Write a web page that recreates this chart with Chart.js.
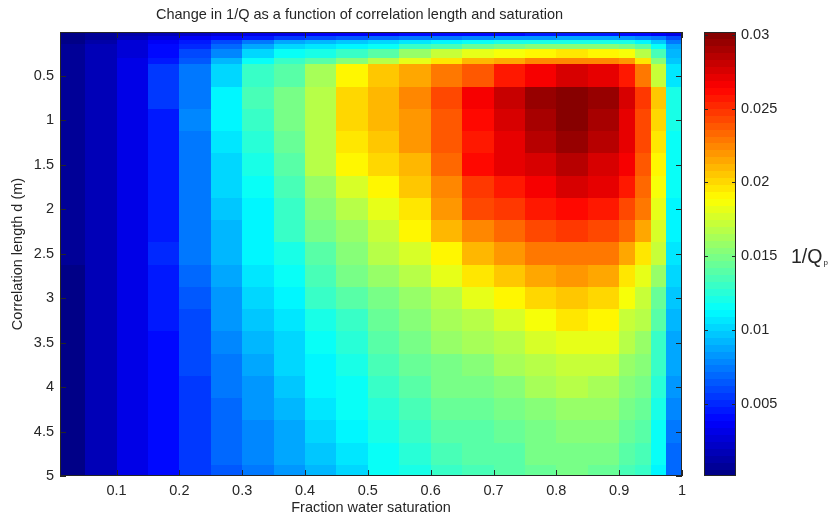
<!DOCTYPE html>
<html>
<head>
<meta charset="utf-8">
<title>Change in 1/Q</title>
<script src="https://cdn.jsdelivr.net/npm/chart.js@4.4.1/dist/chart.umd.min.js"></script>
<style>
  html, body { margin: 0; padding: 0; background: #fff; }
</style>
</head>
<body>
<canvas id="heatmap" width="833" height="518"></canvas>
<script>
const saturationEdges = [0.01, 0.05, 0.1, 0.15, 0.2, 0.25, 0.3, 0.35, 0.4, 0.45, 0.5,
  0.55, 0.6, 0.65, 0.7, 0.75, 0.8, 0.85, 0.9, 0.925, 0.95, 0.975, 1.0];
const lengthEdges = [0.01, 0.05, 0.1, 0.15, 0.2, 0.3, 0.375, 0.625, 0.875, 1.125, 1.375,
  1.625, 1.875, 2.125, 2.375, 2.625, 2.875, 3.125, 3.375, 3.625, 3.875, 4.125, 4.375,
  4.625, 4.875, 5.0];

// 1/Qp, one row per correlation length bin, one column per saturation bin
const invQ = [
  [0.0003,0.0008,0.0013,0.0018,0.0022,0.0026,0.0030,0.0033,0.0035,0.0037,0.0038,0.0040,0.0041,0.0042,0.0043,0.0044,0.0044,0.0044,0.0043,0.0041,0.0038,0.0032],
  [0.0004,0.0010,0.0018,0.0028,0.0034,0.0041,0.0048,0.0056,0.0060,0.0065,0.0068,0.0072,0.0076,0.0080,0.0083,0.0085,0.0086,0.0086,0.0084,0.0080,0.0072,0.0058],
  [0.0005,0.0013,0.0025,0.0035,0.0045,0.0058,0.0072,0.0088,0.0095,0.0098,0.0102,0.0107,0.0112,0.0117,0.0120,0.0122,0.0123,0.0122,0.0120,0.0112,0.0098,0.0075],
  [0.0006,0.0016,0.0028,0.0041,0.0052,0.0068,0.0088,0.0102,0.0107,0.0112,0.0118,0.0128,0.0137,0.0145,0.0150,0.0154,0.0156,0.0155,0.0151,0.0140,0.0118,0.0088],
  [0.0007,0.0017,0.0028,0.0042,0.0058,0.0080,0.0102,0.0115,0.0122,0.0130,0.0142,0.0158,0.0172,0.0183,0.0189,0.0193,0.0195,0.0193,0.0187,0.0168,0.0135,0.0095],
  [0.0008,0.0018,0.0030,0.0046,0.0065,0.0092,0.0115,0.0130,0.0140,0.0152,0.0166,0.0182,0.0196,0.0208,0.0217,0.0223,0.0226,0.0223,0.0218,0.0195,0.0155,0.0098],
  [0.0008,0.0018,0.0031,0.0055,0.0074,0.0103,0.0128,0.0142,0.0162,0.0190,0.0205,0.0213,0.0228,0.0240,0.0255,0.0268,0.0276,0.0271,0.0258,0.0228,0.0175,0.0108],
  [0.0008,0.0017,0.0030,0.0053,0.0076,0.0112,0.0133,0.0147,0.0166,0.0200,0.0211,0.0226,0.0245,0.0267,0.0282,0.0295,0.0302,0.0295,0.0275,0.0250,0.0205,0.0122],
  [0.0008,0.0018,0.0030,0.0048,0.0077,0.0110,0.0130,0.0147,0.0170,0.0200,0.0211,0.0222,0.0240,0.0262,0.0278,0.0292,0.0298,0.0292,0.0272,0.0245,0.0200,0.0120],
  [0.0007,0.0017,0.0030,0.0046,0.0075,0.0106,0.0124,0.0145,0.0170,0.0197,0.0207,0.0220,0.0238,0.0258,0.0272,0.0286,0.0293,0.0285,0.0270,0.0243,0.0195,0.0118],
  [0.0007,0.0017,0.0030,0.0046,0.0074,0.0103,0.0120,0.0142,0.0168,0.0190,0.0200,0.0211,0.0235,0.0260,0.0270,0.0278,0.0287,0.0278,0.0265,0.0240,0.0190,0.0116],
  [0.0007,0.0017,0.0030,0.0047,0.0073,0.0100,0.0116,0.0137,0.0160,0.0178,0.0193,0.0204,0.0226,0.0250,0.0258,0.0268,0.0277,0.0270,0.0255,0.0234,0.0185,0.0114],
  [0.0007,0.0016,0.0030,0.0047,0.0072,0.0097,0.0113,0.0132,0.0152,0.0168,0.0183,0.0195,0.0218,0.0242,0.0248,0.0255,0.0262,0.0258,0.0245,0.0228,0.0180,0.0112],
  [0.0006,0.0016,0.0030,0.0048,0.0072,0.0095,0.0112,0.0128,0.0147,0.0160,0.0174,0.0190,0.0208,0.0226,0.0236,0.0242,0.0247,0.0245,0.0232,0.0213,0.0178,0.0110],
  [0.0006,0.0016,0.0030,0.0049,0.0072,0.0094,0.0110,0.0122,0.0142,0.0155,0.0166,0.0178,0.0193,0.0211,0.0220,0.0228,0.0230,0.0228,0.0215,0.0198,0.0175,0.0106],
  [0.0005,0.0017,0.0030,0.0047,0.0068,0.0090,0.0105,0.0117,0.0136,0.0147,0.0158,0.0170,0.0181,0.0197,0.0205,0.0213,0.0218,0.0213,0.0198,0.0183,0.0160,0.0102],
  [0.0005,0.0017,0.0030,0.0045,0.0065,0.0085,0.0100,0.0113,0.0128,0.0140,0.0151,0.0160,0.0170,0.0182,0.0190,0.0199,0.0207,0.0200,0.0185,0.0175,0.0145,0.0098],
  [0.0005,0.0017,0.0030,0.0044,0.0062,0.0082,0.0096,0.0108,0.0120,0.0132,0.0145,0.0152,0.0162,0.0170,0.0178,0.0188,0.0196,0.0190,0.0175,0.0167,0.0138,0.0093],
  [0.0005,0.0017,0.0030,0.0043,0.0060,0.0079,0.0092,0.0104,0.0117,0.0124,0.0140,0.0147,0.0157,0.0162,0.0168,0.0178,0.0183,0.0180,0.0167,0.0160,0.0132,0.0090],
  [0.0005,0.0017,0.0030,0.0042,0.0058,0.0076,0.0088,0.0100,0.0113,0.0119,0.0134,0.0143,0.0151,0.0155,0.0161,0.0170,0.0174,0.0172,0.0160,0.0154,0.0128,0.0086],
  [0.0005,0.0017,0.0030,0.0042,0.0057,0.0073,0.0085,0.0096,0.0110,0.0116,0.0130,0.0138,0.0147,0.0150,0.0155,0.0162,0.0166,0.0164,0.0154,0.0148,0.0125,0.0082],
  [0.0005,0.0017,0.0030,0.0041,0.0056,0.0071,0.0082,0.0092,0.0107,0.0114,0.0124,0.0133,0.0143,0.0145,0.0150,0.0156,0.0160,0.0157,0.0149,0.0143,0.0121,0.0078],
  [0.0005,0.0017,0.0030,0.0041,0.0055,0.0069,0.0079,0.0089,0.0101,0.0112,0.0120,0.0130,0.0138,0.0142,0.0146,0.0151,0.0155,0.0152,0.0145,0.0140,0.0118,0.0074],
  [0.0005,0.0017,0.0030,0.0040,0.0054,0.0067,0.0077,0.0086,0.0097,0.0108,0.0117,0.0126,0.0134,0.0138,0.0142,0.0147,0.0151,0.0147,0.0141,0.0134,0.0115,0.0071],
  [0.0004,0.0017,0.0030,0.0040,0.0053,0.0066,0.0075,0.0084,0.0094,0.0104,0.0114,0.0122,0.0130,0.0136,0.0139,0.0143,0.0147,0.0143,0.0137,0.0128,0.0112,0.0068]
];

const saturationTicks = [0.1, 0.2, 0.3, 0.4, 0.5, 0.6, 0.7, 0.8, 0.9, 1];
const lengthTicks = [0.5, 1, 1.5, 2, 2.5, 3, 3.5, 4, 4.5, 5];
const colorbarTicks = [0.005, 0.01, 0.015, 0.02, 0.025, 0.03];
const colorMin = 0.0001;
const colorMax = 0.0302;

const FONT = "'Liberation Sans', Arial, Helvetica, sans-serif";
const TEXT = '#262626';
const LEVELS = 64;

// matlab style jet, 64 steps
function jetColor(t) {
    const c = v => Math.round(255 * Math.min(1, Math.max(0, v)));
    return 'rgb(' + c(1.5 - Math.abs(4 * t - 3)) + ',' + c(1.5 - Math.abs(4 * t - 2)) + ',' + c(1.5 - Math.abs(4 * t - 1)) + ')';
}
const palette = [];
for (let k = 0; k < LEVELS; k++) palette.push(jetColor((k + 0.5) / LEVELS));

function colorFor(v) {
    let k = Math.floor((v - colorMin) / (colorMax - colorMin) * LEVELS);
    k = Math.max(0, Math.min(LEVELS - 1, k));
    return palette[k];
}

const fixedTicks = list => scale => { scale.ticks = list.map(v => ({ value: v })); };

const heatmapPlugin = {
    id: 'heatmap',
    beforeDatasetsDraw(chart) {
        const { ctx, chartArea: a, scales: { x, y, cb } } = chart;

        ctx.save();
        ctx.beginPath();
        ctx.rect(a.left, a.top, a.right - a.left, a.bottom - a.top);
        ctx.clip();
        for (let i = 0; i < invQ.length; i++) {
            const y0 = Math.round(y.getPixelForValue(lengthEdges[i]));
            const y1 = Math.round(y.getPixelForValue(lengthEdges[i + 1]));
            for (let j = 0; j < invQ[i].length; j++) {
                const x0 = Math.round(x.getPixelForValue(saturationEdges[j]));
                const x1 = Math.round(x.getPixelForValue(saturationEdges[j + 1]));
                ctx.fillStyle = colorFor(invQ[i][j]);
                ctx.fillRect(x0, y0, x1 - x0, y1 - y0);
            }
        }
        ctx.restore();

        // axes box + inward ticks
        ctx.save();
        ctx.strokeStyle = TEXT;
        ctx.lineWidth = 1;
        ctx.strokeRect(a.left + 0.5, a.top + 0.5, a.right - a.left - 1, a.bottom - a.top - 1);
        ctx.beginPath();
        saturationTicks.forEach(v => {
            const px = Math.round(x.getPixelForValue(v)) + 0.5;
            ctx.moveTo(px, a.bottom); ctx.lineTo(px, a.bottom - 6);
            ctx.moveTo(px, a.top); ctx.lineTo(px, a.top + 6);
        });
        lengthTicks.forEach(v => {
            const py = Math.round(y.getPixelForValue(v)) + 0.5;
            ctx.moveTo(a.left, py); ctx.lineTo(a.left + 6, py);
            ctx.moveTo(a.right, py); ctx.lineTo(a.right - 6, py);
        });
        ctx.stroke();

        // colorbar
        const cbLeft = cb.left + 22, cbRight = cb.left + 54;
        for (let k = 0; k < LEVELS; k++) {
            const v0 = colorMin + k * (colorMax - colorMin) / LEVELS;
            const v1 = colorMin + (k + 1) * (colorMax - colorMin) / LEVELS;
            const p0 = cb.getPixelForValue(v0), p1 = cb.getPixelForValue(v1);
            ctx.fillStyle = palette[k];
            ctx.fillRect(cbLeft, Math.floor(p1), cbRight - cbLeft, Math.ceil(p0) - Math.floor(p1));
        }
        ctx.strokeRect(cbLeft + 0.5, cb.top + 0.5, cbRight - cbLeft - 1, cb.bottom - cb.top - 1);
        ctx.beginPath();
        colorbarTicks.forEach(v => {
            const py = Math.round(cb.getPixelForValue(v)) + 0.5;
            ctx.moveTo(cbLeft, py); ctx.lineTo(cbLeft + 4, py);
            ctx.moveTo(cbRight, py); ctx.lineTo(cbRight - 4, py);
        });
        ctx.stroke();
        ctx.restore();
    },
    afterDraw(chart) {
        const { ctx, scales: { cb } } = chart;
        ctx.save();
        ctx.fillStyle = TEXT;
        ctx.font = '14.5px ' + FONT;
        ctx.textAlign = 'center';
        ctx.textBaseline = 'middle';
        ctx.fillText('Change in 1/Q as a function of correlation length and saturation', 359.5, 15);

        // colorbar label 1/Qp
        const mid = (cb.top + cb.bottom) / 2;
        ctx.textAlign = 'left';
        ctx.textBaseline = 'alphabetic';
        ctx.font = '19.5px ' + FONT;
        const lx = cb.left + 109;
        ctx.fillText('1/Q', lx, mid + 9);
        const w = ctx.measureText('1/Q').width;
        ctx.font = '8px ' + FONT;
        ctx.fillText('p', lx + w + 1, mid + 11);
        ctx.restore();
    }
};

const tickFont = { family: FONT, size: 14.5 };

new Chart(document.getElementById('heatmap'), {
    type: 'scatter',
    data: { datasets: [] },
    options: {
        responsive: false,
        animation: false,
        devicePixelRatio: 1,
        layout: { padding: { top: 32, left: 0, right: 0, bottom: 0 } },
        plugins: { legend: { display: false }, tooltip: { enabled: false } },
        scales: {
            x: {
                type: 'linear', min: 0.01, max: 1,
                afterBuildTicks: fixedTicks(saturationTicks),
                afterFit: s => { s.height = 42; },
                grid: { display: false, drawTicks: false }, border: { display: false },
                ticks: { color: TEXT, font: tickFont, padding: 6, maxRotation: 0, autoSkip: false, callback: v => String(v) },
                title: { display: true, text: 'Fraction water saturation', color: TEXT, font: tickFont, padding: { top: 0, bottom: 1.5 } }
            },
            y: {
                type: 'linear', min: 0.01, max: 5, reverse: true, position: 'left',
                afterBuildTicks: fixedTicks(lengthTicks),
                afterFit: s => { s.width = 60; },
                grid: { display: false, drawTicks: false }, border: { display: false },
                ticks: { color: TEXT, font: tickFont, padding: 6, autoSkip: false, callback: v => String(v) },
                title: { display: true, text: 'Correlation length d (m)', color: TEXT, font: tickFont, padding: { top: 9, bottom: 0 } }
            },
            cb: {
                type: 'linear', axis: 'y', position: 'right', min: colorMin, max: colorMax,
                afterBuildTicks: fixedTicks(colorbarTicks),
                afterFit: s => { s.width = 151; },
                // tick marks are hidden, tickLength only pushes the labels past the colorbar
                grid: { display: false, drawTicks: true, tickLength: 54 }, border: { display: false },
                ticks: { color: TEXT, font: tickFont, padding: 5, autoSkip: false, callback: v => String(v) }
            }
        }
    },
    plugins: [heatmapPlugin]
});
</script>
</body>
</html>
